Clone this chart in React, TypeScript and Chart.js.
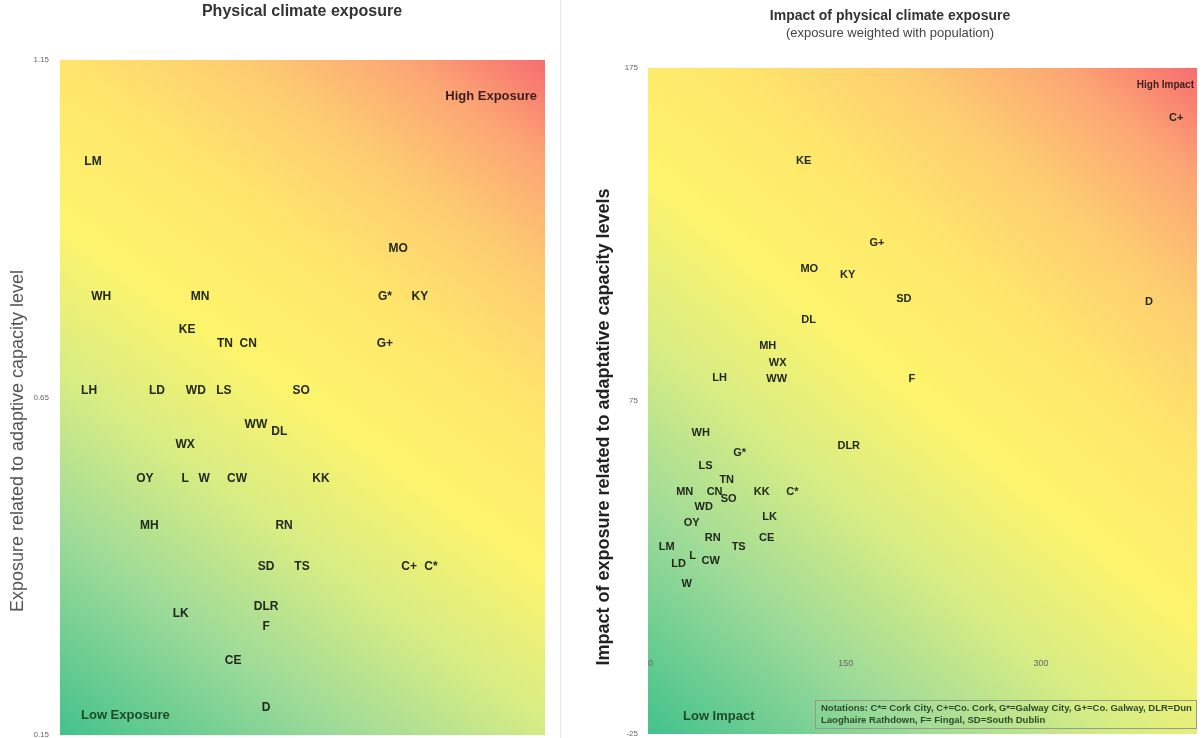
import React, { useEffect, useRef } from "react";
import { Chart, registerables } from "chart.js";

Chart.register(...registerables);

const FONT = "'Liberation Sans', Arial, sans-serif";

// ---- Left chart: Physical climate exposure ----
const leftLabels = ["LM", "WH", "MN", "KE", "TN", "CN", "LH", "LD", "WD", "LS", "SO", "WW", "DL", "WX", "OY", "L", "W", "CW", "KK", "MH", "RN", "SD", "TS", "DLR", "LK", "F", "CE", "D", "MO", "G*", "KY", "G+", "C+", "C*"];
const leftX = [6.8, 8.5, 28.9, 26.2, 34.0, 38.8, 6.0, 20.0, 28.0, 33.8, 49.7, 40.4, 45.2, 25.8, 17.5, 25.8, 29.7, 36.5, 53.8, 18.4, 46.2, 42.5, 49.9, 42.5, 24.9, 42.5, 35.7, 42.5, 69.7, 67.0, 74.2, 67.0, 72.0, 76.5];
const leftY = [1.0, 0.8, 0.8, 0.75, 0.73, 0.73, 0.66, 0.66, 0.66, 0.66, 0.66, 0.61, 0.6, 0.58, 0.53, 0.53, 0.53, 0.53, 0.53, 0.46, 0.46, 0.4, 0.4, 0.34, 0.33, 0.31, 0.26, 0.19, 0.87, 0.8, 0.8, 0.73, 0.4, 0.4];
const leftYTicks = [0.15, 0.65, 1.15];

// ---- Right chart: Impact of physical climate exposure ----
const rightLabels = ["C+", "KE", "G+", "MO", "KY", "SD", "D", "DL", "MH", "WX", "WW", "LH", "F", "DLR", "WH", "G*", "LS", "TN", "MN", "CN", "SO", "KK", "C*", "WD", "LK", "OY", "RN", "CE", "TS", "LM", "L", "LD", "CW", "W"];
const rightX = [404, 117.7, 174, 122, 151.5, 194.6, 383, 121.5, 90, 97.7, 96.9, 53, 200.8, 152.3, 38.5, 68.5, 42.3, 58.5, 26.2, 49.2, 60, 85.4, 109, 40.8, 91.5, 31.5, 47.7, 89.2, 67.7, 12.3, 32.3, 21.5, 46.2, 27.7];
const rightY = [160, 147, 122.6, 114.5, 112.7, 105.7, 104.8, 99.4, 91.6, 86.4, 81.6, 82, 81.6, 61.4, 65.4, 59.3, 55.4, 51.2, 47.6, 47.6, 45.5, 47.6, 47.6, 43.1, 40.1, 38.3, 34, 34, 31.3, 31.3, 28.6, 26.2, 27.1, 20.2];
const rightXTicks = [0, 150, 300];
const rightYTicks = [-25, 75, 175];

const notationLines = [
  "Notations: C*= Cork City, C+=Co. Cork, G*=Galway City, G+=Co. Galway, DLR=Dun",
  "Laoghaire Rathdown, F= Fingal, SD=South Dublin",
];

function fillGradient(chart: any) {
  const { ctx, chartArea: a } = chart;
  if (!a) return;
  const g = ctx.createLinearGradient(a.left, a.bottom, a.right, a.top);
  g.addColorStop(0, "#43c28c");
  g.addColorStop(0.2, "#9edb98");
  g.addColorStop(0.35, "#d6ec84");
  g.addColorStop(0.5, "#fdf46c");
  g.addColorStop(0.65, "#fee66b");
  g.addColorStop(0.78, "#fdcd70");
  g.addColorStop(0.9, "#fca674");
  g.addColorStop(1, "#f76d6f");
  ctx.save();
  ctx.fillStyle = g;
  ctx.fillRect(a.left, a.top, a.right - a.left, a.bottom - a.top);
  ctx.restore();
}

function drawPointLabels(chart: any, labels: string[], size: number) {
  const { ctx } = chart;
  const meta = chart.getDatasetMeta(0);
  ctx.save();
  ctx.font = `bold ${size}px ${FONT}`;
  ctx.fillStyle = "#22281c";
  ctx.textAlign = "center";
  ctx.textBaseline = "middle";
  meta.data.forEach((pt: any, i: number) => {
    ctx.fillText(labels[i], pt.x, pt.y);
  });
  ctx.restore();
}

function text(ctx: any, s: string, x: number, y: number, font: string, color: string, align = "center", rot = 0) {
  ctx.save();
  ctx.translate(x, y);
  if (rot) ctx.rotate(rot);
  ctx.font = font;
  ctx.fillStyle = color;
  ctx.textAlign = align;
  ctx.textBaseline = "middle";
  ctx.fillText(s, 0, 0);
  ctx.restore();
}

function useChart(ref: any, makeConfig: () => any) {
  useEffect(() => {
    const chart = new Chart(ref.current, makeConfig());
    return () => chart.destroy();
  }, []);
}

function fixYAxis(width: number) {
  return (s: any) => {
    s.width = width;
    s.paddingTop = 0;
    s.paddingBottom = 0;
  };
}

function LeftChart() {
  const ref = useRef<HTMLCanvasElement>(null);
  useChart(ref, () => ({
    type: "scatter",
    data: {
      datasets: [
        {
          data: leftX.map((x, i) => ({ x, y: leftY[i] })),
          pointRadius: 0,
          pointHoverRadius: 0,
        },
      ],
    },
    options: {
      responsive: false,
      animation: false,
      events: [],
      layout: { padding: { left: 0, right: 10, top: 60, bottom: 3 } },
      plugins: { legend: { display: false }, tooltip: { enabled: false }, title: { display: false } },
      scales: {
        x: { type: "linear", min: 0, max: 100, display: false },
        y: {
          type: "linear",
          min: 0.15,
          max: 1.15,
          afterFit: fixYAxis(60),
          afterBuildTicks: (s: any) => {
            s.ticks = leftYTicks.map((v) => ({ value: v }));
          },
          grid: { display: false, drawTicks: false },
          border: { display: false },
          ticks: {
            font: { size: 8, family: FONT },
            color: "#666",
            padding: 11,
            callback: (v: any) => Number(v).toFixed(2),
          },
        },
      },
    },
    plugins: [
      {
        id: "leftOverlay",
        beforeDraw: (chart: any) => fillGradient(chart),
        afterDatasetsDraw: (chart: any) => {
          const { ctx, chartArea: a } = chart;
          drawPointLabels(chart, leftLabels, 12);
          text(ctx, "High Exposure", a.right - 8, 96, `bold 13px ${FONT}`, "#3b1f1c", "right");
          text(ctx, "Low Exposure", 81, 715, `bold 13px ${FONT}`, "#1f4a2a", "left");
          text(ctx, "Physical climate exposure", 302, 12, `bold 16px ${FONT}`, "#333");
          text(ctx, "Exposure related to adaptive capacity level", 18, 441, `18px ${FONT}`, "#555", "center", -Math.PI / 2);
        },
      },
    ],
  }));
  return <canvas ref={ref} width={555} height={738} style={{ display: "block" }} />;
}

function RightChart() {
  const ref = useRef<HTMLCanvasElement>(null);
  useChart(ref, () => ({
    type: "scatter",
    data: {
      datasets: [
        {
          data: rightX.map((x, i) => ({ x, y: rightY[i] })),
          pointRadius: 0,
          pointHoverRadius: 0,
        },
      ],
    },
    options: {
      responsive: false,
      animation: false,
      events: [],
      layout: { padding: { left: 0, right: 5, top: 68, bottom: 4 } },
      plugins: { legend: { display: false }, tooltip: { enabled: false }, title: { display: false } },
      scales: {
        x: {
          type: "linear",
          min: -2,
          max: 420,
          position: { y: 0 },
          afterBuildTicks: (s: any) => {
            s.ticks = rightXTicks.map((v) => ({ value: v }));
          },
          grid: { display: false, drawTicks: false },
          border: { display: false },
          ticks: { font: { size: 9, family: FONT }, color: "#666", padding: 7, maxRotation: 0, autoSkip: false },
        },
        y: {
          type: "linear",
          min: -25,
          max: 175,
          afterFit: fixYAxis(83),
          afterBuildTicks: (s: any) => {
            s.ticks = rightYTicks.map((v) => ({ value: v }));
          },
          grid: { display: false, drawTicks: false },
          border: { display: false },
          ticks: { font: { size: 8, family: FONT }, color: "#666", padding: 10 },
        },
      },
    },
    plugins: [
      {
        id: "rightOverlay",
        beforeDraw: (chart: any) => fillGradient(chart),
        afterDatasetsDraw: (chart: any) => {
          const { ctx, chartArea: a } = chart;
          drawPointLabels(chart, rightLabels, 11);
          text(ctx, "High Impact", a.right - 3, 85, `bold 10px ${FONT}`, "#3b1f1c", "right");
          text(ctx, "Low Impact", 118, 716, `bold 13px ${FONT}`, "#1f4a2a", "left");
          text(ctx, "Impact of physical climate exposure", 325, 16, `bold 14px ${FONT}`, "#333");
          text(ctx, "(exposure weighted with population)", 325, 33, `13px ${FONT}`, "#444");
          text(ctx, "Impact of exposure related to adaptative capacity levels", 39, 427, `bold 18px ${FONT}`, "#222", "center", -Math.PI / 2);
          // notation box
          ctx.save();
          ctx.strokeStyle = "#9a9a8a";
          ctx.lineWidth = 1;
          ctx.strokeRect(250.5, 700.5, 381, 28);
          ctx.restore();
          notationLines.forEach((l, i) => {
            ctx.save();
            ctx.font = `bold 9.5px ${FONT}`;
            ctx.fillStyle = "#2e4a2e";
            ctx.textAlign = "left";
            ctx.textBaseline = "middle";
            ctx.fillText(l, 256, 708 + i * 12, 372);
            ctx.restore();
          });
        },
      },
    ],
  }));
  return <canvas ref={ref} width={637} height={738} style={{ display: "block" }} />;
}

export default function App() {
  return (
    <div style={{ position: "absolute", left: 0, top: 0, width: 1202, height: 738, background: "#fff", overflow: "hidden" }}>
      <div style={{ position: "absolute", left: 0, top: 0, width: 555, height: 738 }}>
        <LeftChart />
      </div>
      <div style={{ position: "absolute", left: 560, top: 0, width: 1, height: 738, background: "#e4e4e4" }} />
      <div style={{ position: "absolute", left: 565, top: 0, width: 637, height: 738 }}>
        <RightChart />
      </div>
    </div>
  );
}
